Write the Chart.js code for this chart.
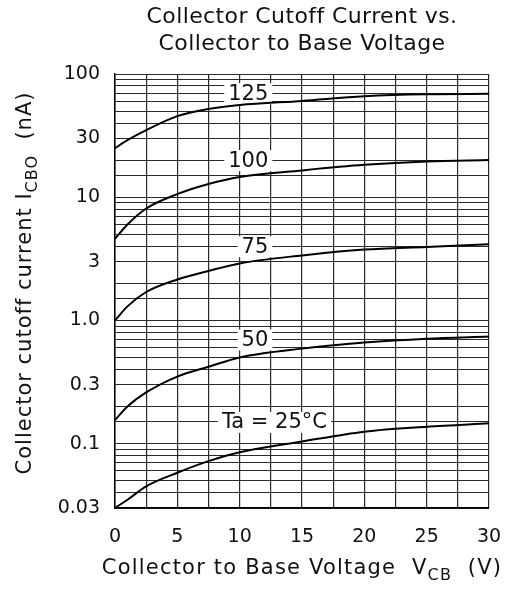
<!DOCTYPE html>
<html><head><meta charset="utf-8">
<script src="https://cdn.jsdelivr.net/npm/chart.js@4.4.1/dist/chart.umd.min.js"></script>
<style>html,body{margin:0;padding:0;background:#fff}canvas{display:block}</style>
</head><body>
<canvas id="c" width="508" height="590"></canvas>
<script>
// ---- data ----
const vcb      = [0, 1, 2.5, 5, 7.5, 10, 15, 20, 25, 30];
const icbo125  = [25, 29, 35, 45.5, 52, 56, 60.5, 66, 68.5, 69];
const icbo100  = [4.6, 6.0, 8.1, 10.6, 12.8, 14.6, 16.5, 18.3, 19.5, 20];
const icbo75   = [1.0, 1.3, 1.7, 2.15, 2.52, 2.9, 3.37, 3.76, 3.95, 4.15];
const icbo50   = [0.155, 0.2, 0.26, 0.35, 0.42, 0.5, 0.59, 0.66, 0.71, 0.74];
const icbo25   = [0.03, 0.035, 0.045, 0.058, 0.072, 0.085, 0.104, 0.125, 0.137, 0.146];

const xTicks      = [0, 2.5, 5, 7.5, 10, 12.5, 15, 17.5, 20, 22.5, 25, 27.5, 30];
const xTickLabels = ['0', '', '5', '', '10', '', '15', '', '20', '', '25', '', '30'];
const yGrid = [0.03,0.04,0.05,0.06,0.07,0.08,0.09,
               0.1,0.15,0.2,0.3,0.4,0.5,0.6,0.7,0.8,0.9,
               1,1.5,2,3,4,5,6,7,8,9,
               10,15,20,30,40,50,60,70,80,90,100];
const yTickValues = [0.03, 0.1, 0.3, 1, 3, 10, 30, 100];
const yTickLabels = ['0.03', '0.1', '0.3', '1.0', '3', '10', '30', '100'];

const curveNames  = ['125', '100', '75', '50', 'Ta = 25°C'];
const curveLabelV = [12.3, 12.3, 12.3, 12.3, 17.0];
const curveLabelI = [70, 20, 4, 0.7, 0.15];

const titleLines = ['Collector Cutoff Current vs.', 'Collector to Base Voltage'];

// ---- styles ----
const FONT = '"DejaVu Sans", "Liberation Sans", Arial, sans-serif';
const TEXT = '#111';
const GRID = '#2a2a2a';

function series(vals){ return vcb.map((v,i)=>({x:v, y:vals[i]})); }
const dsStyle = {borderColor:'#000', borderWidth:2, pointRadius:0, fill:false,
                 cubicInterpolationMode:'monotone', clip:false};

function measureRich(ctx, parts, size){
  let w = 0;
  parts.forEach(p=>{
    ctx.font = (p.sub ? Math.round(size*0.75) : size) + 'px ' + FONT;
    w += ctx.measureText(p.t).width;
  });
  return w;
}
function paintRich(ctx, parts, size, x0, y0){
  let x = x0;
  parts.forEach(p=>{
    ctx.font = (p.sub ? Math.round(size*0.75) : size) + 'px ' + FONT;
    ctx.fillText(p.t, x, y0 + (p.sub ? size*0.3 : 0));
    x += ctx.measureText(p.t).width;
  });
}

const textPlugin = {
  id: 'texts',
  beforeDatasetsDraw(chart){
    const {ctx, scales:{x, y}} = chart;
    ctx.save();
    ctx.font = '21px ' + FONT;
    ctx.textBaseline = 'middle';
    ctx.textAlign = 'right';
    curveNames.forEach((t, i)=>{
      const px = x.getPixelForValue(curveLabelV[i]);
      const py = y.getPixelForValue(curveLabelI[i]);
      const w = ctx.measureText(t).width;
      ctx.fillStyle = '#fff';
      ctx.fillRect(px - w - 4, py - 10, w + 8, 21);
      ctx.fillStyle = TEXT;
      ctx.fillText(t, px, py + 1);
    });
    ctx.restore();
  },
  afterDraw(chart){
    const {ctx, chartArea} = chart;
    const cx = (chartArea.left + chartArea.right) / 2;
    ctx.save();
    ctx.fillStyle = TEXT;
    ctx.textAlign = 'center';
    ctx.textBaseline = 'alphabetic';
    ctx.font = '22px ' + FONT;
    if ('letterSpacing' in ctx) ctx.letterSpacing = '0.4px';
    ctx.fillText(titleLines[0], cx, 23);
    ctx.fillText(titleLines[1], cx, 50);

    ctx.textAlign = 'left';
    if ('letterSpacing' in ctx) ctx.letterSpacing = '1.2px';
    // x axis title
    const xParts = [{t:'Collector to Base Voltage  V'}, {t:'CB', sub:true}, {t:'  (V)'}];
    const xw = measureRich(ctx, xParts, 21);
    paintRich(ctx, xParts, 21, cx - xw/2, 574);
    // y axis title (rotated)
    if ('letterSpacing' in ctx) ctx.letterSpacing = '1px';
    const yParts = [{t:'Collector cutoff current I'}, {t:'CBO', sub:true}, {t:'  (nA)'}];
    const yw = measureRich(ctx, yParts, 21);
    ctx.translate(31, 283);
    ctx.rotate(-Math.PI/2);
    paintRich(ctx, yParts, 21, -yw/2, 0);
    ctx.restore();
  }
};

new Chart(document.getElementById('c'), {
  type: 'line',
  data: {
    datasets: [
      Object.assign({label:'125', data: series(icbo125)}, dsStyle),
      Object.assign({label:'100', data: series(icbo100)}, dsStyle),
      Object.assign({label:'75',  data: series(icbo75)},  dsStyle),
      Object.assign({label:'50',  data: series(icbo50)},  dsStyle),
      Object.assign({label:'25',  data: series(icbo25)},  dsStyle)
    ]
  },
  options: {
    responsive: false,
    animation: false,
    devicePixelRatio: 1,
    layout: {padding: {top: 74, right: 19, left: 0, bottom: 0}},
    plugins: {legend: {display: false}, tooltip: {enabled: false}, title: {display: false}},
    scales: {
      x: {
        type: 'linear', min: 0, max: 30,
        afterBuildTicks: s => { s.ticks = xTicks.map(v => ({value: v})); },
        afterFit: s => { s.height = 82; s.paddingLeft = 0; s.paddingRight = 0; },
        ticks: {
          autoSkip: false, maxRotation: 0, padding: 18, color: TEXT,
          font: {family: FONT, size: 19},
          callback: (v, i) => xTickLabels[i]
        },
        grid: {color: GRID, lineWidth: 1.2, drawTicks: false},
        border: {color: '#000', width: 1.5}
      },
      y: {
        type: 'logarithmic', min: 0.03, max: 100,
        afterBuildTicks: s => { s.ticks = yGrid.map(v => ({value: v})); },
        afterFit: s => { s.width = 115; s.paddingTop = 0; s.paddingBottom = 0; },
        ticks: {
          autoSkip: false, padding: 15, color: TEXT,
          font: {family: FONT, size: 19},
          callback: (v) => {
            const k = yTickValues.findIndex(t => Math.abs(t - v) / t < 1e-6);
            return k >= 0 ? yTickLabels[k] : '';
          }
        },
        grid: {color: GRID, lineWidth: 1, drawTicks: false},
        border: {color: '#000', width: 1.5}
      }
    }
  },
  plugins: [textPlugin]
});
</script>
</body></html>
